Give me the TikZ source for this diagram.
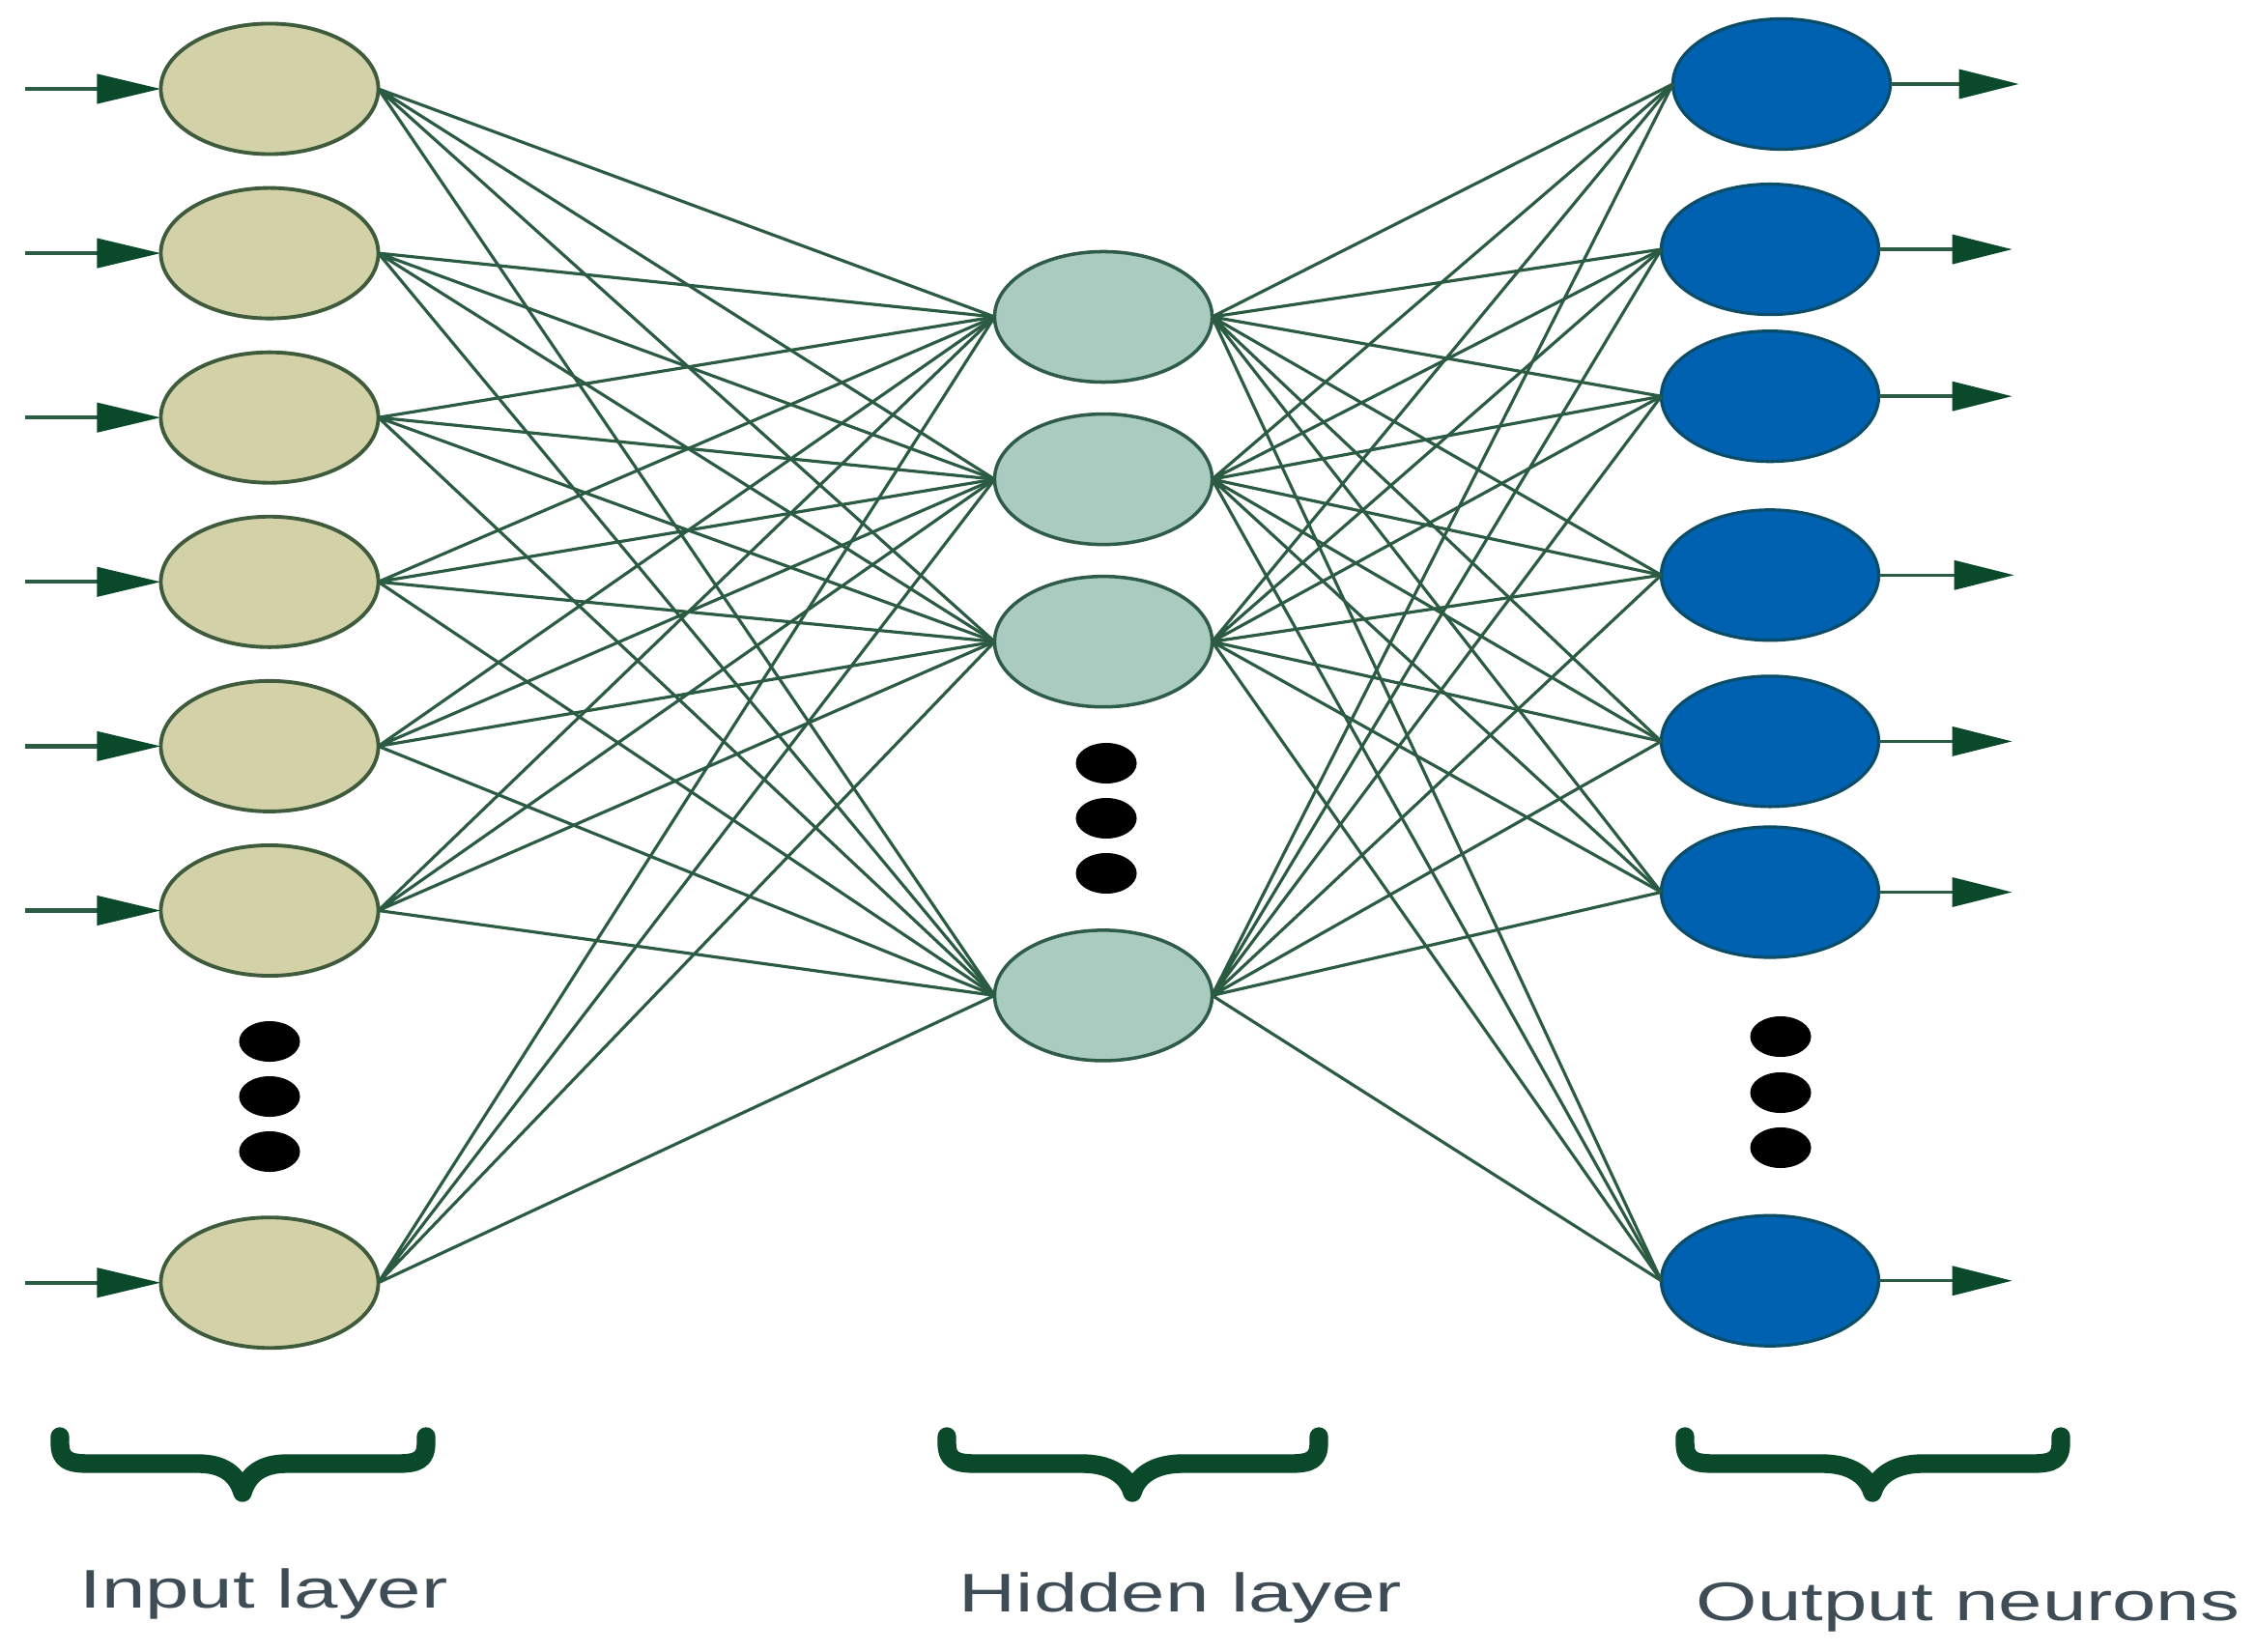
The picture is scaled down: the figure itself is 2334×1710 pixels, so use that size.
\documentclass[tikz,border=0pt]{standalone}
\usepackage{fontspec}
\setmainfont{Liberation Sans}
\usepackage{xcolor}
\definecolor{inFill}{HTML}{D3D1A8}
\definecolor{inDraw}{HTML}{3E5B3C}
\definecolor{hidFill}{HTML}{AACBBF}
\definecolor{hidDraw}{HTML}{2F5C48}
\definecolor{outFill}{HTML}{0061B0}
\definecolor{outDraw}{HTML}{0B4C66}
\definecolor{wireGreen}{HTML}{2B5C43}
\definecolor{headGreen}{HTML}{0A4A2B}
\definecolor{labelGray}{HTML}{3E4C56}
\usetikzlibrary{positioning,arrows.meta,shapes.geometric}
\tikzset{%
  inputNeuron/.style={%
    ellipse,
    draw=inDraw,
    fill=inFill,
    line width=1.1pt,
    minimum width=2.25cm,
    minimum height=1.35cm,
    inner sep=0pt,
    outer sep=0pt
  },
  hiddenNeuron/.style={%
    ellipse,
    draw=hidDraw,
    fill=hidFill,
    line width=1pt,
    minimum width=2.25cm,
    minimum height=1.35cm,
    inner sep=0pt,
    outer sep=0pt
  },
  outputNeuron/.style={%
    ellipse,
    draw=outDraw,
    fill=outFill,
    line width=0.9pt,
    minimum width=2.25cm,
    minimum height=1.35cm,
    inner sep=0pt,
    outer sep=0pt
  },
  ellipsisDot/.style={%
    ellipse,
    fill=black,
    minimum width=0.63cm,
    minimum height=0.42cm,
    inner sep=0pt
  },
  layerLabel/.style={%
    anchor=base,
    text=labelGray,
    font=\fontsize{16}{19}\selectfont,
    inner sep=0pt
  }
}

\begin{document}
\begin{tikzpicture}[x=0.01cm, y=-0.01cm]
            \useasboundingbox (0,0) rectangle (2334,1710);
            % Styles for wires and braces
            \tikzset{%
                synapse/.style={%
                        draw=wireGreen,
                        line width=0.9pt
                    },
                inArrow/.style={%
                        -{Triangle[length=0.66cm,width=0.3cm,color=headGreen]},
                        draw=wireGreen,
                        line width=1.2pt
                    },
                outArrow/.style={%
                        -{Triangle[length=0.62cm,width=0.3cm,color=headGreen]},
                        draw=wireGreen,
                        line width=1pt
                    },
                braceLine/.style={%
                        draw=headGreen,
                        line width=5.5pt,
                        line cap=round,
                        line join=round
                    }
            }

            % Input layer
            \node[inputNeuron] (in1) at (279,92) {};
            \node[inputNeuron, below=0.35cm of in1] (in2) {};
            \node[inputNeuron, below=0.35cm of in2] (in3) {};
            \node[inputNeuron, below=0.35cm of in3] (in4) {};
            \node[inputNeuron, below=0.35cm of in4] (in5) {};
            \node[inputNeuron, below=0.35cm of in5] (in6) {};
            \node[inputNeuron, below=2.5cm of in6] (in7) {};

            \node[ellipsisDot] (inDot1) at (279,1078) {};
            \node[ellipsisDot] (inDot2) at (279,1135) {};
            \node[ellipsisDot] (inDot3) at (279,1192) {};

            % Hidden layer
            \node[hiddenNeuron] (hid1) at (1142,328) {};
            \node[hiddenNeuron, below=0.33cm of hid1] (hid2) {};
            \node[hiddenNeuron, below=0.33cm of hid2] (hid3) {};
            \node[hiddenNeuron, below=2.31cm of hid3] (hid4) {};

            \node[ellipsisDot] (hidDot1) at (1145,790) {};
            \node[ellipsisDot] (hidDot2) at (1145,847) {};
            \node[ellipsisDot] (hidDot3) at (1145,904) {};

            % Output neurons
            \node[outputNeuron] (out1) at (1844,87) {};
            \node[outputNeuron, below=0.36cm of out1, xshift=-0.12cm] (out2) {};
            \node[outputNeuron, below=0.17cm of out2] (out3) {};
            \node[outputNeuron, below=0.5cm of out3] (out4) {};
            \node[outputNeuron, below=0.37cm of out4] (out5) {};
            \node[outputNeuron, below=0.21cm of out5] (out6) {};
            \node[outputNeuron, below=2.67cm of out6] (out7) {};

            \node[ellipsisDot] (outDot1) at (1843,1073) {};
            \node[ellipsisDot] (outDot2) at (1843,1131) {};
            \node[ellipsisDot] (outDot3) at (1843,1188) {};

            % Input arrows
            \coordinate[left=1.4cm of in1.west] (src1);
            \coordinate[left=1.4cm of in2.west] (src2);
            \coordinate[left=1.4cm of in3.west] (src3);
            \coordinate[left=1.4cm of in4.west] (src4);
            \coordinate[left=1.4cm of in5.west] (src5);
            \coordinate[left=1.4cm of in6.west] (src6);
            \coordinate[left=1.4cm of in7.west] (src7);

            \draw[inArrow] (src1) -- (in1.west);
            \draw[inArrow] (src2) -- (in2.west);
            \draw[inArrow] (src3) -- (in3.west);
            \draw[inArrow] (src4) -- (in4.west);
            \draw[inArrow] (src5) -- (in5.west);
            \draw[inArrow] (src6) -- (in6.west);
            \draw[inArrow] (src7) -- (in7.west);

            % Input to hidden
            \draw[synapse] (in1.east) -- (hid1.west) (in1.east) -- (hid2.west) (in1.east) -- (hid3.west) (in1.east) -- (hid4.west);
            \draw[synapse] (in2.east) -- (hid1.west) (in2.east) -- (hid2.west) (in2.east) -- (hid3.west) (in2.east) -- (hid4.west);
            \draw[synapse] (in3.east) -- (hid1.west) (in3.east) -- (hid2.west) (in3.east) -- (hid3.west) (in3.east) -- (hid4.west);
            \draw[synapse] (in4.east) -- (hid1.west) (in4.east) -- (hid2.west) (in4.east) -- (hid3.west) (in4.east) -- (hid4.west);
            \draw[synapse] (in5.east) -- (hid1.west) (in5.east) -- (hid2.west) (in5.east) -- (hid3.west) (in5.east) -- (hid4.west);
            \draw[synapse] (in6.east) -- (hid1.west) (in6.east) -- (hid2.west) (in6.east) -- (hid3.west) (in6.east) -- (hid4.west);
            \draw[synapse] (in7.east) -- (hid1.west) (in7.east) -- (hid2.west) (in7.east) -- (hid3.west) (in7.east) -- (hid4.west);

            % Hidden to output
            \draw[synapse] (hid1.east) -- (out1.west) (hid1.east) -- (out2.west) (hid1.east) -- (out3.west) (hid1.east) -- (out4.west) (hid1.east) -- (out5.west) (hid1.east) -- (out6.west) (hid1.east) -- (out7.west);
            \draw[synapse] (hid2.east) -- (out1.west) (hid2.east) -- (out2.west) (hid2.east) -- (out3.west) (hid2.east) -- (out4.west) (hid2.east) -- (out5.west) (hid2.east) -- (out6.west) (hid2.east) -- (out7.west);
            \draw[synapse] (hid3.east) -- (out1.west) (hid3.east) -- (out2.west) (hid3.east) -- (out3.west) (hid3.east) -- (out4.west) (hid3.east) -- (out5.west) (hid3.east) -- (out6.west) (hid3.east) -- (out7.west);
            \draw[synapse] (hid4.east) -- (out1.west) (hid4.east) -- (out2.west) (hid4.east) -- (out3.west) (hid4.east) -- (out4.west) (hid4.east) -- (out5.west) (hid4.east) -- (out6.west) (hid4.east) -- (out7.west);

            % Output arrows
            \coordinate[right=1.33cm of out1.east] (dst1);
            \coordinate[right=1.38cm of out2.east] (dst2);
            \coordinate[right=1.38cm of out3.east] (dst3);
            \coordinate[right=1.4cm of out4.east] (dst4);
            \coordinate[right=1.38cm of out5.east] (dst5);
            \coordinate[right=1.38cm of out6.east] (dst6);
            \coordinate[right=1.38cm of out7.east] (dst7);

            \draw[outArrow] (out1.east) -- (dst1);
            \draw[outArrow] (out2.east) -- (dst2);
            \draw[outArrow] (out3.east) -- (dst3);
            \draw[outArrow] (out4.east) -- (dst4);
            \draw[outArrow] (out5.east) -- (dst5);
            \draw[outArrow] (out6.east) -- (dst6);
            \draw[outArrow] (out7.east) -- (dst7);

            % Braces
            \draw[braceLine] (62,1487) -- (62,1493) .. controls (62,1511) and (70,1515) .. (92,1515) -- (205,1515) .. controls (230,1515) and (245,1525) .. (251,1545) .. controls (257,1525) and (272,1515) .. (297,1515) -- (411,1515) .. controls (433,1515) and (441,1511) .. (441,1493) -- (441,1487);
            \draw[braceLine] (980,1487) -- (980,1493) .. controls (980,1511) and (988,1515) .. (1010,1515) -- (1120,1515) .. controls (1146,1515) and (1166,1525) .. (1172,1545) .. controls (1178,1525) and (1198,1515) .. (1224,1515) -- (1335,1515) .. controls (1357,1515) and (1365,1511) .. (1365,1493) -- (1365,1487);
            \draw[braceLine] (1744,1487) -- (1744,1493) .. controls (1744,1511) and (1752,1515) .. (1774,1515) -- (1886,1515) .. controls (1912,1515) and (1932,1525) .. (1938,1545) .. controls (1944,1525) and (1964,1515) .. (1990,1515) -- (2103,1515) .. controls (2125,1515) and (2133,1511) .. (2133,1493) -- (2133,1487);

            % Labels
            \node[layerLabel] (inLabel) at (273,1664) {\scalebox{1.45}[1]{Input layer}};
            \node[layerLabel] (hidLabel) at (1222,1668) {\scalebox{1.45}[1]{Hidden layer}};
            \node[layerLabel] (outLabel) at (2037,1677) {\scalebox{1.45}[1]{Output neurons}};
\end{tikzpicture}
\end{document}
